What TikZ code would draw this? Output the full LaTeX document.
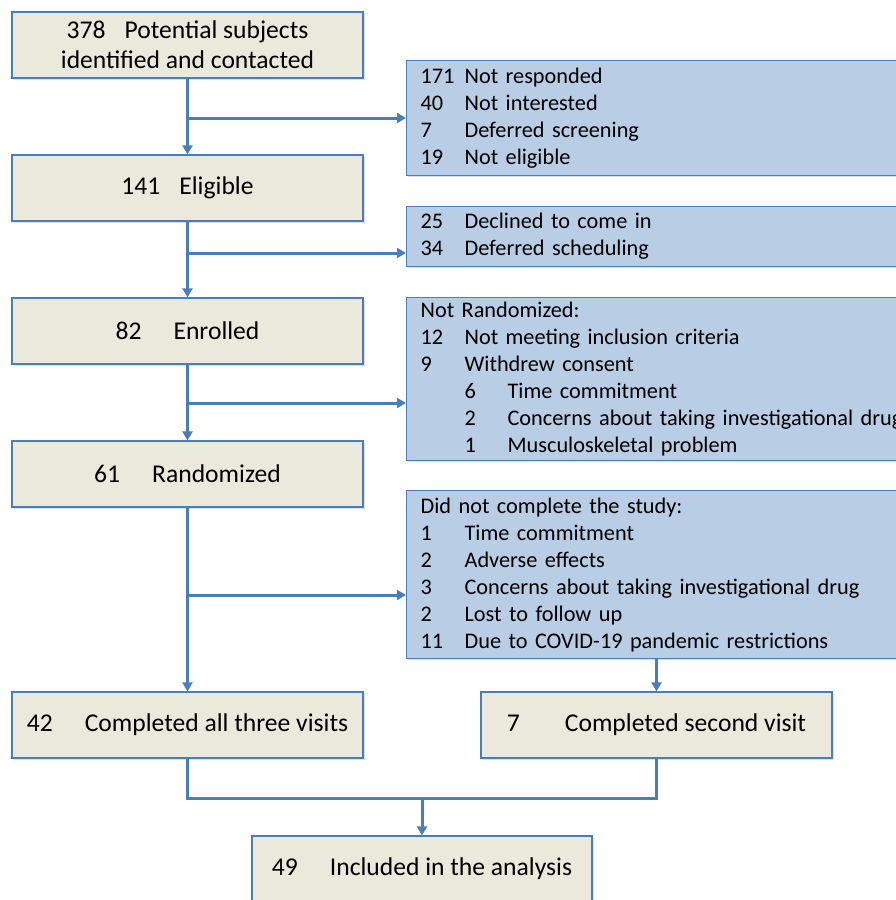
\documentclass[tikz,border=0pt]{standalone}
\usepackage{fontspec}
\setmainfont{Carlito}
\usetikzlibrary{arrows.meta,shadows}
\definecolor{tanfill}{HTML}{EBE8DC}
\definecolor{bluefill}{HTML}{B9CDE5}
\definecolor{edgeblue}{HTML}{4A7EBB}
\newcommand{\stage}[2]{\makebox[58pt][l]{#1}#2}
\newcommand{\reason}[2]{\makebox[44pt][l]{#1}#2}
\newcommand{\subreason}[2]{\hspace*{44pt}\makebox[43pt][l]{#1}#2}

\begin{document}
\begin{tikzpicture}[x=1pt,y=1pt,
  tanbox/.style={draw=edgeblue,line width=1.2pt,fill=tanfill,minimum width=351pt,minimum height=66pt,inner sep=0pt,align=center,font={\fontsize{25.6}{30}\selectfont},drop shadow={opacity=0.25,shadow xshift=1.5pt,shadow yshift=-1.5pt}},
  bluebox/.style={draw=edgeblue,line width=1.2pt,fill=bluefill,text width=600pt,inner xsep=14pt,inner ysep=0pt,align=left,anchor=north west,font={\fontsize{22.3}{27}\selectfont},drop shadow={opacity=0.25,shadow xshift=1.5pt,shadow yshift=-1.5pt}},
  flow/.style={draw=edgeblue,line width=3pt,-{Triangle[length=9pt,width=10pt]}},
  link/.style={draw=edgeblue,line width=3pt}]
  \useasboundingbox (0,0) rectangle (896,-900);
  \clip (0,0) rectangle (896,-900);

  % main column
  \node[tanbox] (contacted) at (187.5,-45) {\stage{378}{Potential subjects}\\identified and contacted};
  \node[tanbox] (eligible) at (187.5,-188) {\stage{141}{Eligible}};
  \node[tanbox] (enrolled) at (187.5,-331) {\stage{82}{Enrolled}};
  \node[tanbox] (randomized) at (187.5,-474) {\stage{61}{Randomized}};
  \node[tanbox] (allthree) at (187.5,-725) {\stage{42}{Completed all three visits}};
  \node[tanbox] (second) at (656.5,-725) {\stage{7}{Completed second visit}};
  \node[tanbox,minimum width=340pt] (analysis) at (422,-869) {\stage{49}{Included in the analysis}};

  % exclusions
  \node[bluebox,minimum height=115pt] (lost1) at (406,-60) {\reason{171}{Not responded}\\\reason{40}{Not interested}\\\reason{7}{Deferred screening}\\\reason{19}{Not eligible}};
  \node[bluebox,minimum height=60pt] (lost2) at (406,-206) {\reason{25}{Declined to come in}\\\reason{34}{Deferred scheduling}};
  \node[bluebox,minimum height=163pt] (lost3) at (406,-297) {Not Randomized:\\\reason{12}{Not meeting inclusion criteria}\\\reason{9}{Withdrew consent}\\\subreason{6}{Time commitment}\\\subreason{2}{Concerns about taking investigational drug}\\\subreason{1}{Musculoskeletal problem}};
  \node[bluebox,minimum height=168pt] (lost4) at (406,-490) {Did not complete the study:\\\reason{1}{Time commitment}\\\reason{2}{Adverse effects}\\\reason{3}{Concerns about taking investigational drug}\\\reason{2}{Lost to follow up}\\\reason{11}{Due to COVID-19 pandemic restrictions}};

  % branch points
  \coordinate (j1) at (187.5,-118);
  \coordinate (j2) at (187.5,-253);
  \coordinate (j3) at (187.5,-403);
  \coordinate (j4) at (187.5,-595);
  \coordinate (merge) at (422,-798);

  \draw[flow] (contacted) -- (eligible);
  \draw[flow] (eligible) -- (enrolled);
  \draw[flow] (enrolled) -- (randomized);
  \draw[flow] (randomized) -- (allthree);
  \foreach \j/\b in {j1/lost1,j2/lost2,j3/lost3,j4/lost4}
    \draw[flow] (\j) -- (\j -| \b.west);
  \draw[flow] (lost4.south -| second) -- (second);
  \draw[link] (allthree.south) |- (merge) -| (second.south);
  \draw[flow] (merge) -- (analysis);
\end{tikzpicture}
\end{document}
